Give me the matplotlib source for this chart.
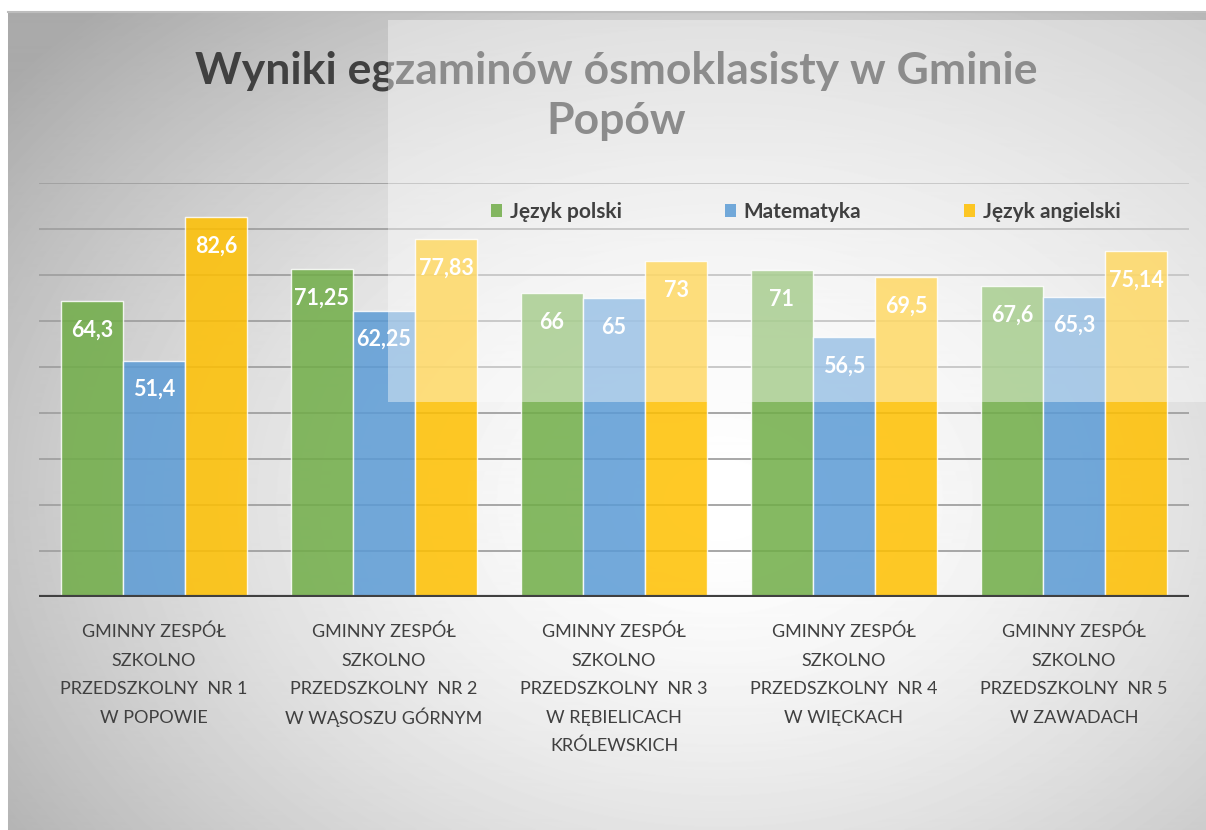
# Wyniki egzaminów ósmoklasisty - wykres słupkowy
import matplotlib.pyplot as plt
import numpy as np
from matplotlib.patches import Patch, Rectangle

plt.rcParams['font.family'] = ['Lato', 'DejaVu Sans']

# Dane
szkoly = [
    "GMINNY ZESPÓŁ\nSZKOLNO\nPRZEDSZKOLNY  NR 1\nW POPOWIE",
    "GMINNY ZESPÓŁ\nSZKOLNO\nPRZEDSZKOLNY  NR 2\nW WĄSOSZU GÓRNYM",
    "GMINNY ZESPÓŁ\nSZKOLNO\nPRZEDSZKOLNY  NR 3\nW RĘBIELICACH\nKRÓLEWSKICH",
    "GMINNY ZESPÓŁ\nSZKOLNO\nPRZEDSZKOLNY  NR 4\nW WIĘCKACH",
    "GMINNY ZESPÓŁ\nSZKOLNO\nPRZEDSZKOLNY  NR 5\nW ZAWADACH",
]
polski = [64.3, 71.25, 66, 71, 67.6]
matematyka = [51.4, 62.25, 65, 56.5, 65.3]
angielski = [82.6, 77.83, 73, 69.5, 75.14]
przedmioty = ["Język polski", "Matematyka", "Język angielski"]
kolory = ["#70AD47", "#5B9BD5", "#FFC000"]

W, H = 1206, 830
fig = plt.figure(figsize=(W / 100, H / 100), dpi=100)

# Tło z gradientem
bg = fig.add_axes([0, 0, 1, 1], zorder=-10)
yy, xx = np.mgrid[0:H, 0:W]
d = np.sqrt(((xx - 720) / 760) ** 2 + ((yy - 500) / 560) ** 2)
val = 1 - 0.25 * np.clip(d, 0, 1.2) ** 1.6
val[:12, :] = 1
val[:, :8] = 1
bg.imshow(val, cmap="gray", vmin=0, vmax=1, extent=[0, W, H, 0], aspect="auto")
bg.plot([8, W], [12, 12], color="#bdbdbd", lw=1.5)
bg.set_xlim(0, W)
bg.set_ylim(H, 0)
bg.axis("off")

# Wykres
ax = fig.add_axes([39 / W, 1 - 597 / H, 1150 / W, 414 / H])
ax.set_facecolor("none")
x = np.arange(len(szkoly))
w = 0.27
for i, (dane, kol) in enumerate(zip([polski, matematyka, angielski], kolory)):
    bars = ax.bar(x + (i - 1) * w, dane, w, color=kol, alpha=0.85,
                  edgecolor="white", linewidth=1, zorder=2)
    for b, v in zip(bars, dane):
        ax.annotate(f"{v:g}".replace(".", ","),
                    (b.get_x() + b.get_width() / 2, v),
                    xytext=(0, -29), textcoords="offset pixels",
                    ha="center", va="center", color="white",
                    fontsize=15.5, fontweight="bold", zorder=3)

ax.set_xlim(-0.5, 4.5)
ax.set_ylim(0, 90)
ax.set_yticks(range(0, 100, 10))
ax.yaxis.grid(True, color="#a0a0a0", lw=1.3, zorder=0)
ax.set_axisbelow(True)
ax.axhline(0, color="#404040", lw=3, zorder=4)
ax.tick_params(axis="y", length=0, labelleft=False)
ax.set_xticks(x)
ax.set_xticklabels([])
ax.tick_params(axis="x", length=0)
for s in ax.spines.values():
    s.set_visible(False)

# Etykiety kategorii - każda linia osobno, równe odstępy
for xi, nazwa in zip(x, szkoly):
    for j, linia in enumerate(nazwa.split("\n")):
        ax.annotate(linia, (xi, 0), xycoords=("data", "axes fraction"),
                    xytext=(0, -35 - 28.5 * j), textcoords="offset pixels",
                    ha="center", va="center", fontsize=13, color="#404040",
                    annotation_clip=False)

# Tytuł
fig.text(616 / W, 1 - 96 / H,
         "Wyniki egzaminów ósmoklasisty w Gminie\nPopów",
         ha="center", va="center", fontsize=32, fontweight="bold",
         color="#404040", linespacing=1.3, zorder=3)

# Półprzezroczysty prostokąt
fig.patches.append(Rectangle((388 / W, 1 - 402 / H), (W - 388) / W, 382 / H,
                             transform=fig.transFigure, facecolor="white",
                             alpha=0.4, edgecolor="none", zorder=10))

# Legenda
uchwyty = [Patch(facecolor=k, alpha=0.85) for k in kolory]
leg = fig.legend(uchwyty, przedmioty, ncol=3, frameon=False,
                 loc="center left", bbox_to_anchor=(472 / W, 1 - 212 / H),
                 prop={"size": 15, "weight": "bold"}, handlelength=0.55,
                 handleheight=0.55, handletextpad=0.35, columnspacing=4.95)
for t in leg.get_texts():
    t.set_color("#404040")
leg.set_zorder(11)

fig.savefig("out.png", dpi=100)
